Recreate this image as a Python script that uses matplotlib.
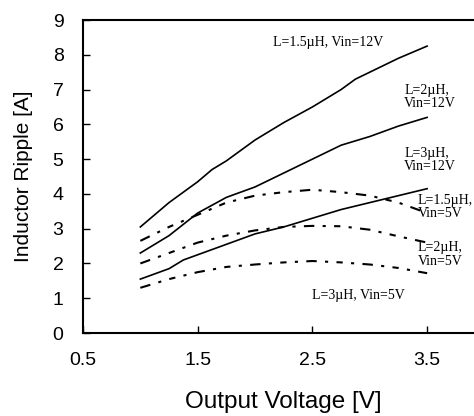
import matplotlib
matplotlib.use("Agg")
import matplotlib.pyplot as plt

# ---- data ----
x_a = [1.0, 1.25, 1.5, 1.625, 1.75, 2.0, 2.25, 2.5, 2.75, 2.875, 3.0, 3.25, 3.5]
l15_12 = [3.05, 3.75, 4.35, 4.7, 4.95, 5.55, 6.05, 6.5, 7.0, 7.3, 7.5, 7.9, 8.25]

x_b = [1.0, 1.25, 1.5, 1.75, 2.0, 2.25, 2.5, 2.75, 3.0, 3.25, 3.5]
l2_12 = [2.3, 2.8, 3.45, 3.9, 4.2, 4.6, 5.0, 5.4, 5.65, 5.95, 6.2]

x_c = [1.0, 1.25, 1.375, 1.5, 1.75, 2.0, 2.25, 2.5, 2.75, 3.0, 3.25, 3.5]
l3_12 = [1.55, 1.85, 2.1, 2.25, 2.55, 2.85, 3.05, 3.3, 3.55, 3.75, 3.95, 4.15]

x_d = [1.0, 1.25, 1.5, 1.75, 2.0, 2.25, 2.5, 2.75, 3.0, 3.25, 3.5]
l15_5 = [2.65, 3.05, 3.4, 3.75, 3.95, 4.05, 4.12, 4.05, 3.95, 3.75, 3.45]
l2_5 = [2.0, 2.3, 2.6, 2.8, 2.95, 3.05, 3.08, 3.07, 2.97, 2.78, 2.6]
l3_5 = [1.3, 1.55, 1.75, 1.9, 1.97, 2.03, 2.07, 2.03, 1.97, 1.87, 1.72]

x_ticks = [0.5, 1.5, 2.5, 3.5]
y_ticks = list(range(0, 10))

labels = [
    ("L=1.5\u00b5H, Vin=12V", 2.155, 8.36),
    ("L=2\u00b5H,\nVin=12V", 3.3, 6.78),
    ("L=3\u00b5H,\nVin=12V", 3.3, 4.97),
    ("L=1.5\u00b5H,\nVin=5V", 3.42, 3.62),
    ("L=2\u00b5H,\nVin=5V", 3.42, 2.26),
    ("L=3\u00b5H, Vin=5V", 2.5, 1.09),
]

fig = plt.figure(figsize=(4.74, 4.16), dpi=100)
ax = fig.add_axes([0.1751, 0.1995, 0.847, 0.7524])

sans = "Liberation Sans"
serif = "Liberation Serif"

dash = (0, (5, 4, 1.5, 4, 3, 4, 1.5, 4))
ax.plot(x_a, l15_12, color="black", lw=1.2)
ax.plot(x_b, l2_12, color="black", lw=1.2)
ax.plot(x_c, l3_12, color="black", lw=1.2)
ax.plot(x_d, l15_5, color="black", lw=1.5, linestyle=dash)
ax.plot(x_d, l2_5, color="black", lw=1.5, linestyle=dash)
ax.plot(x_d, l3_5, color="black", lw=1.5, linestyle=dash)

for txt, xx, yy in labels:
    ax.text(xx, yy, txt, family=serif, fontsize=10, ha="left", va="center",
            linespacing=1.05)

ax.set_xlim(0.5, 4.0)
ax.set_ylim(0, 9)
ax.set_xticks(x_ticks)
ax.set_xticklabels([str(v) for v in x_ticks])
ax.set_yticks(y_ticks)
ax.tick_params(axis="x", direction="in", length=5, width=1, pad=13.5, labelsize=14)
ax.tick_params(axis="y", direction="in", length=5, width=1, pad=14, labelsize=14)
for lab in ax.get_xticklabels() + ax.get_yticklabels():
    lab.set_family(sans)
for s in ax.spines.values():
    s.set_linewidth(1.5)

ax.set_xlabel("Output Voltage [V]", family=sans, fontsize=17.5, labelpad=16)
ax.set_ylabel("Inductor Ripple [A]", family=sans, fontsize=15, labelpad=14)

fig.savefig("out.png", dpi=100)
